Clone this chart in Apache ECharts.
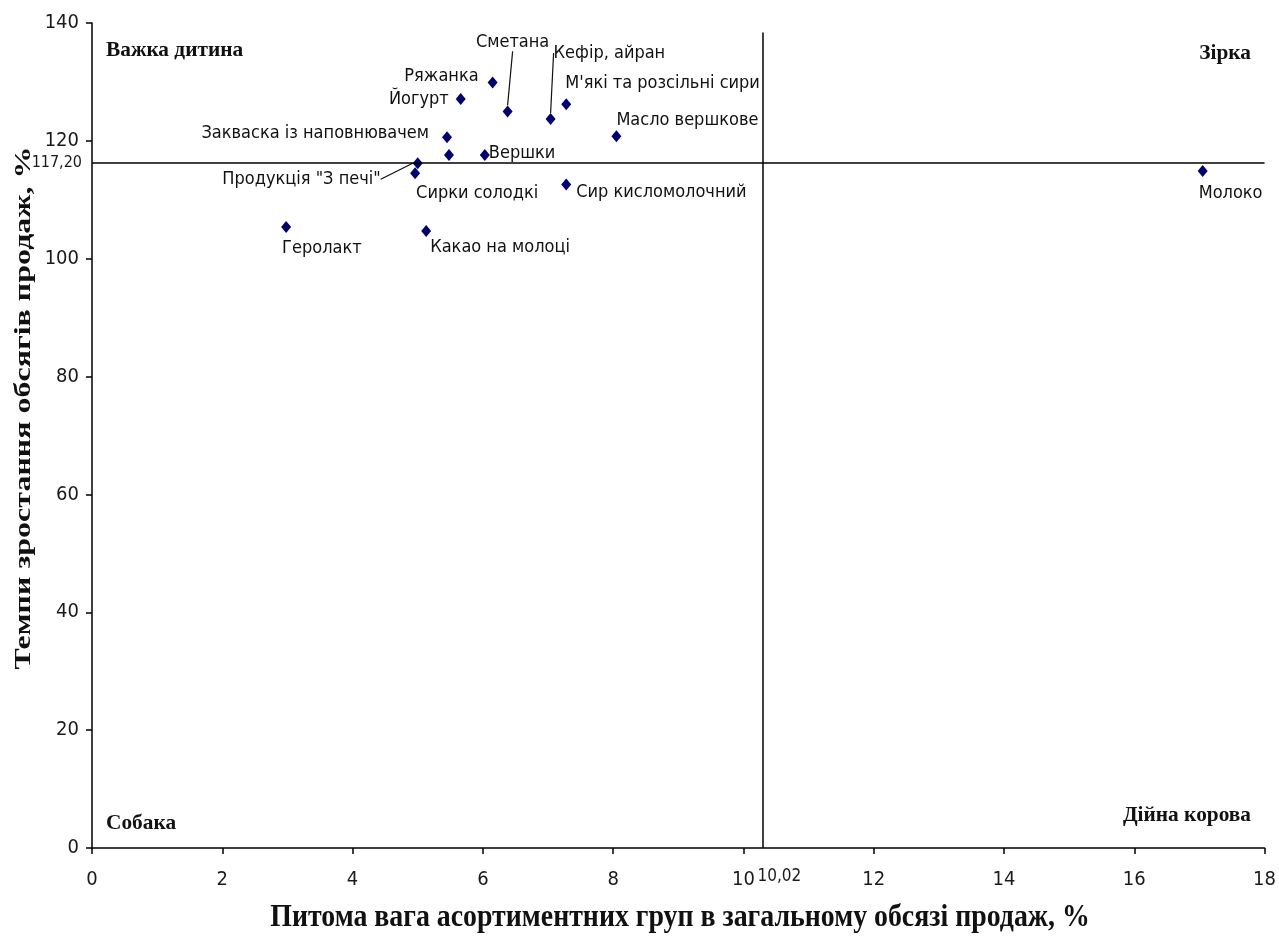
<!DOCTYPE html>
<html><head><meta charset="utf-8">
<script src="https://cdn.jsdelivr.net/npm/echarts@6/dist/echarts.min.js"></script>
<style>html,body{margin:0;padding:0;background:#fff}#c{width:1279px;height:944px}</style>
</head><body><div id="c"></div>
<script>
// ---- data ----
const productNames = ['Геролакт', 'Продукція "З печі"', 'Сирки солодкі', 'Какао на молоці',
  'Закваска із наповнювачем', '', 'Вершки', 'Йогурт', 'Ряжанка', 'Сметана',
  'Кефір, айран', 'М\'які та розсільні сири', 'Масло вершкове', 'Сир кисломолочний', 'Молоко'];
const shareValues  = [2.98, 5.00, 4.96, 5.13, 5.45, 5.48, 6.03, 5.66, 6.15, 6.38, 7.04, 7.28, 8.05, 7.28, 17.05];
const growthValues = [105.4, 116.2, 114.5, 104.7, 120.6, 117.6, 117.6, 127.1, 129.9, 125.0, 123.7, 126.2, 120.8, 112.6, 114.9];
const xTickRange = {min: 0, max: 18, interval: 2};
const yTickRange = {min: 0, max: 140, interval: 20};
const avgGrowthLabel = '117,20';
const avgShareLabel = '10,02';
const avgGrowthDrawn = 116.3;   // where the reference draws the dividing line
const avgShareDrawn = 10.29;
const verticalLineTop = 138.4;
const quadrantNames = ['Важка дитина', 'Зірка', 'Собака', 'Дійна корова'];
const xTitle = 'Питома вага асортиментних груп в загальному обсязі продаж, %';
const yTitle = 'Темпи зростання обсягів продаж, %';

// ---- label placement (styling) ----
// [anchor, dx, dy]: anchor l = label left edge, r = right edge, c = centre; dy = label centre
const labelPlacement = [
  ['l', -4, 21], ['r', -37, 16], ['l', 1, 20], ['l', 4, 16], ['r', -18, -4], null,
  ['l', 4, -2], ['r', -12, 0], ['r', -14, -6], ['c', 5, -69], ['l', 3, -66],
  ['l', -1, -21], ['l', 0, -16], ['l', 10, 8], ['l', -4, 22]
];
const leaderLines = [1, 9, 10];

const NARROW = "'Liberation Sans Narrow', 'Arial Narrow', 'DejaVu Sans Condensed', sans-serif";
const SERIF = "'Liberation Serif', 'Times New Roman', serif";

const points = productNames.map((n, i) => ({
  name: n,
  value: [shareValues[i], growthValues[i]],
  label: {show: n !== ''},
  labelLine: {show: leaderLines.indexOf(i) >= 0}
}));

const chart = echarts.init(document.getElementById('c'), null, {renderer: 'canvas'});
chart.setOption({
  animation: false,
  backgroundColor: '#fff',
  grid: {left: 92, top: 23, right: 11, bottom: 96},
  xAxis: {
    type: 'value', min: xTickRange.min, max: xTickRange.max, interval: xTickRange.interval,
    axisLine: {show: true, lineStyle: {color: '#000', width: 1.5}},
    axisTick: {show: true, length: 6, lineStyle: {color: '#000', width: 1.5}},
    axisLabel: {margin: 22, fontFamily: NARROW, fontSize: 20, color: '#1a1a1a'},
    splitLine: {show: false}
  },
  yAxis: {
    type: 'value', min: yTickRange.min, max: yTickRange.max, interval: yTickRange.interval,
    axisLine: {show: true, onZero: false, lineStyle: {color: '#000', width: 1.5}},
    axisTick: {show: true, length: 6, lineStyle: {color: '#000', width: 1.5}},
    axisLabel: {margin: 13, fontFamily: NARROW, fontSize: 20, color: '#1a1a1a'},
    splitLine: {show: false}
  },
  graphic: [
    {type: 'text', x: 106, y: 50, scaleX: 0.97,
      style: {text: quadrantNames[0], font: 'bold 22px ' + SERIF, fill: '#111', verticalAlign: 'middle'}},
    {type: 'text', x: 1251, y: 53, scaleX: 0.97,
      style: {text: quadrantNames[1], font: 'bold 22px ' + SERIF, fill: '#111', align: 'right', verticalAlign: 'middle'}},
    {type: 'text', x: 106, y: 823, scaleX: 0.97,
      style: {text: quadrantNames[2], font: 'bold 22px ' + SERIF, fill: '#111', verticalAlign: 'middle'}},
    {type: 'text', x: 1251, y: 815, scaleX: 0.97,
      style: {text: quadrantNames[3], font: 'bold 22px ' + SERIF, fill: '#111', align: 'right', verticalAlign: 'middle'}},
    {type: 'text', x: 680, y: 918, scaleX: 0.87,
      style: {text: xTitle, font: 'bold 32px ' + SERIF, fill: '#111', align: 'center', verticalAlign: 'middle'}},
    {type: 'text', x: 24, y: 408, rotation: Math.PI / 2, scaleY: 0.7,
      style: {text: yTitle, font: 'bold 32px ' + SERIF, fill: '#111', align: 'center', verticalAlign: 'middle'}}
  ],
  series: [{
    type: 'scatter',
    symbol: 'diamond',
    symbolSize: [10, 12],
    itemStyle: {color: '#00006e', opacity: 1},
    data: points,
    label: {show: true, position: 'right', formatter: '{b}', fontFamily: NARROW, fontSize: 18, color: '#111'},
    labelLine: {show: false, length2: 0, lineStyle: {color: '#111', width: 1.2}},
    labelLayout: function (p) {
      const pl = labelPlacement[p.dataIndex];
      if (!pl) return {};
      const cx = p.rect.x + p.rect.width / 2, cy = p.rect.y + p.rect.height / 2;
      const lr = p.labelRect;
      let dx;
      if (pl[0] === 'l') dx = cx + pl[1] - lr.x;
      else if (pl[0] === 'r') dx = cx + pl[1] - (lr.x + lr.width);
      else dx = cx + pl[1] - (lr.x + lr.width / 2);
      const dy = cy + pl[2] - (lr.y + lr.height / 2);
      return {dx: dx, dy: dy};
    },
    markLine: {
      silent: true,
      symbol: 'none',
      animation: false,
      lineStyle: {color: '#000', width: 1.5, type: 'solid'},
      data: [
        [{coord: [xTickRange.min, avgGrowthDrawn],
          label: {show: true, position: 'start', formatter: avgGrowthLabel, distance: 10,
                  fontFamily: NARROW, fontSize: 16, color: '#1a1a1a'}},
         {coord: [xTickRange.max, avgGrowthDrawn]}],
        [{coord: [avgShareDrawn, yTickRange.min],
          label: {show: true, position: 'start', formatter: avgShareLabel, distance: 20,
                  offset: [17, 0], fontFamily: NARROW, fontSize: 17, color: '#1a1a1a'}},
         {coord: [avgShareDrawn, verticalLineTop]}]
      ]
    }
  }]
});
</script>
</body></html>
